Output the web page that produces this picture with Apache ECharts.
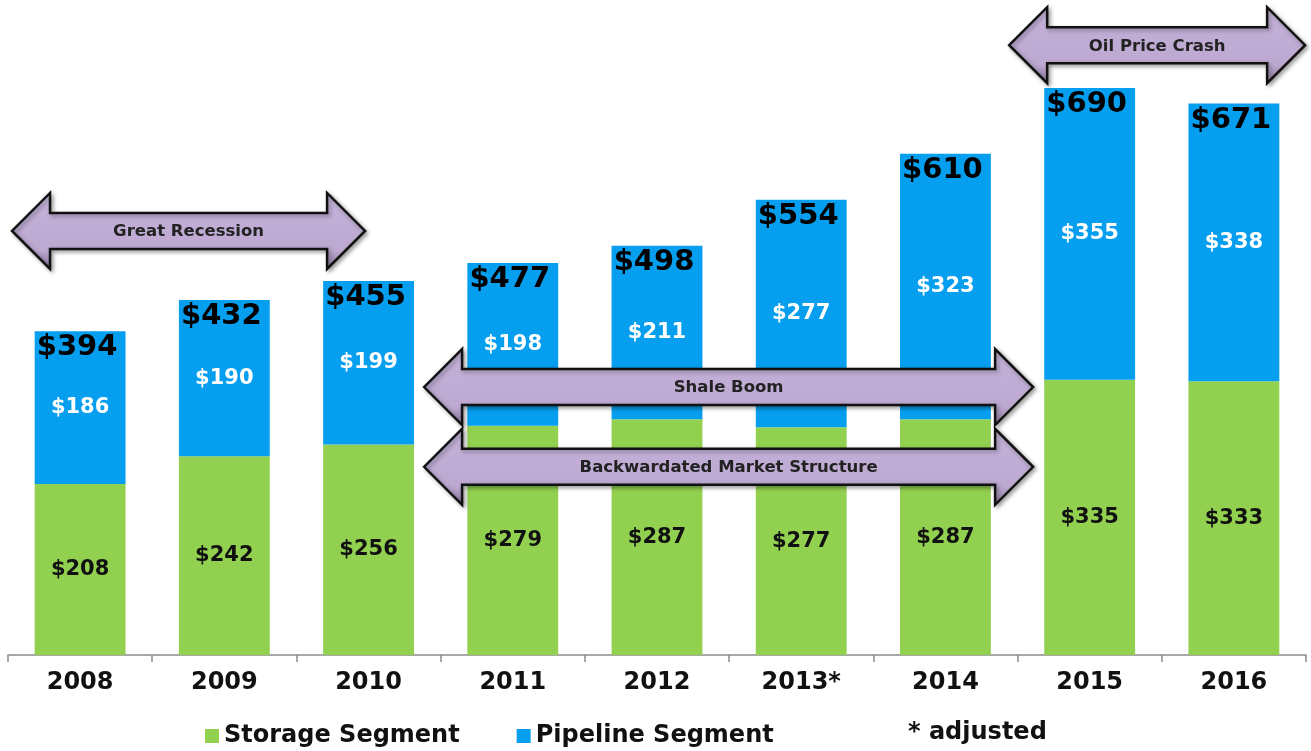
<!DOCTYPE html>
<html>
<head>
<meta charset="utf-8">
<script src="https://cdn.jsdelivr.net/npm/echarts@6/dist/echarts.min.js"></script>
<style>
html, body { margin: 0; padding: 0; background: #fff; }
#chart { width: 1311px; height: 751px; }
</style>
</head>
<body>
<div id="chart"></div>
<script>
const years = ['2008', '2009', '2010', '2011', '2012', '2013*', '2014', '2015', '2016']
const storage = [208, 242, 256, 279, 287, 277, 287, 335, 333]
const pipeline = [186, 190, 199, 198, 211, 277, 323, 355, 338]
const totals = [394, 432, 455, 477, 498, 554, 610, 690, 671]

// period arrows: [label, from category, to category, level on value axis]
const periods = [
    ['Great Recession', -0.472, 1.976, 516],
    ['Oil Price Crash', 6.442, 8.494, 742],
    ['Shale Boom', 2.385, 6.608, 326],
    ['Backwardated Market Structure', 2.385, 6.608, 229]
]

const FONT = '"DejaVu Sans", Verdana, sans-serif'
const GREEN = '#92d050'
const BLUE = '#069eee'

const chart = echarts.init(document.getElementById('chart'))

chart.setOption({
    animation: false,
    grid: { left: 8, right: 5, top: 14, bottom: 96, containLabel: false },
    legend: {
        data: ['Storage Segment', 'Pipeline Segment'],
        left: 200,
        top: 719,
        icon: 'rect',
        itemWidth: 14,
        itemHeight: 14,
        itemGap: 57,
        textStyle: { fontFamily: FONT, fontWeight: 'bold', fontSize: 24, color: '#111' }
    },
    xAxis: {
        type: 'category',
        data: years,
        axisLine: { lineStyle: { color: '#8c8c8c', width: 1.5 } },
        axisTick: { show: true, length: 7, lineStyle: { color: '#8c8c8c', width: 1.5 } },
        axisLabel: { margin: 16, fontFamily: FONT, fontWeight: 'bold', fontSize: 24, color: '#111' }
    },
    yAxis: {
        type: 'value',
        min: 0,
        max: 780,
        show: false,
        splitLine: { show: false }
    },
    series: [
        {
            name: 'Storage Segment',
            type: 'bar',
            stack: 'seg',
            barWidth: '63%',
            data: storage,
            itemStyle: { color: GREEN },
            label: {
                show: true,
                position: 'inside',
                formatter: p => '$' + p.value,
                fontFamily: FONT, fontWeight: 'bold', fontSize: 21, color: '#111'
            }
        },
        {
            name: 'Pipeline Segment',
            type: 'bar',
            stack: 'seg',
            barWidth: '63%',
            data: pipeline,
            itemStyle: { color: BLUE },
            label: {
                show: true,
                position: 'inside',
                formatter: p => '$' + p.value,
                fontFamily: FONT, fontWeight: 'bold', fontSize: 21, color: '#fff'
            }
        },
        {
            name: 'Total',
            type: 'bar',
            barWidth: '63%',
            barGap: '-100%',
            data: totals,
            silent: true,
            itemStyle: { color: 'rgba(0,0,0,0)' },
            label: {
                show: true,
                position: 'insideTop',
                distance: 2,
                offset: [-3, 0],
                formatter: p => '$' + p.value,
                fontFamily: FONT, fontWeight: 'bold', fontSize: 29, color: '#000'
            }
        }
    ]
})

const arrowShape = (x0, x1, yc) => {
    const head = 38, hh = 38, sh = 18
    return [
        [x0, yc], [x0 + head, yc - hh], [x0 + head, yc - sh],
        [x1 - head, yc - sh], [x1 - head, yc - hh], [x1, yc],
        [x1 - head, yc + hh], [x1 - head, yc + sh],
        [x0 + head, yc + sh], [x0 + head, yc + hh]
    ]
}

const drawArrows = () => {
    const c0 = chart.convertToPixel({ xAxisIndex: 0 }, 0)
    const c1 = chart.convertToPixel({ xAxisIndex: 0 }, 1)
    const band = c1 - c0
    const graphic = []
    periods.forEach(([text, from, to, level]) => {
        const x0 = c0 + from * band
        const x1 = c0 + to * band
        const yc = chart.convertToPixel({ yAxisIndex: 0 }, level)
        graphic.push({
            type: 'polygon',
            z: 100,
            shape: { points: arrowShape(x0, x1, yc) },
            style: {
                fill: new echarts.graphic.LinearGradient(0, 0, 0, 1, [
                    { offset: 0, color: '#d6c7e4' },
                    { offset: 0.2, color: '#c3b0d8' },
                    { offset: 0.75, color: '#bca8d0' },
                    { offset: 1, color: '#8a769c' }
                ]),
                stroke: '#111',
                lineWidth: 2.5,
                shadowBlur: 4,
                shadowOffsetX: 2,
                shadowOffsetY: 2,
                shadowColor: 'rgba(0,0,0,0.35)'
            }
        })
        graphic.push({
            type: 'text',
            z: 101,
            x: (x0 + x1) / 2,
            y: yc + 1,
            style: {
                text,
                align: 'center',
                verticalAlign: 'middle',
                font: 'bold 16.5px ' + FONT,
                fill: '#222'
            }
        })
    })
    graphic.push({
        type: 'text',
        z: 101,
        x: 908,
        y: 733,
        style: {
            text: '* adjusted',
            align: 'left',
            verticalAlign: 'middle',
            font: 'bold 24px ' + FONT,
            fill: '#111'
        }
    })
    chart.setOption({ graphic })
}

drawArrows()
</script>
</body>
</html>
